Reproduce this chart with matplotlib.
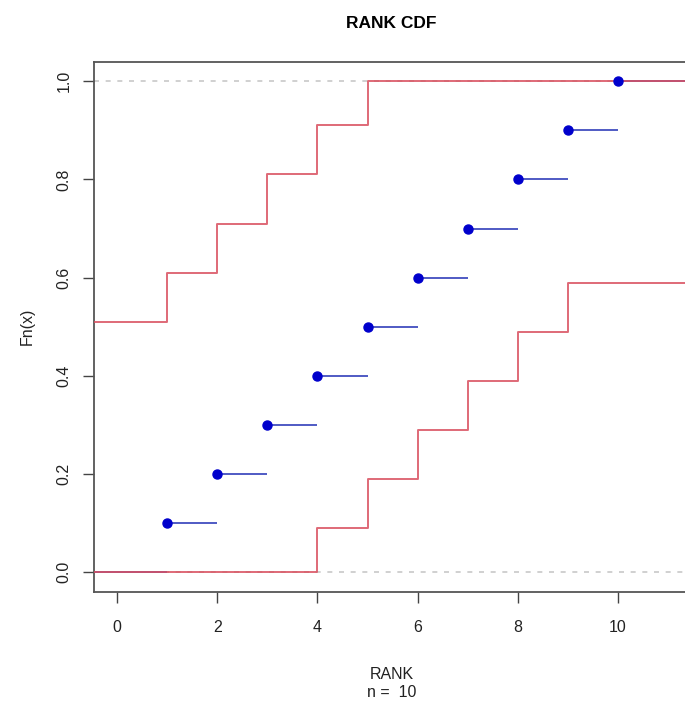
import numpy as np
import matplotlib
matplotlib.use("Agg")
import matplotlib.pyplot as plt

# ---- data ----
ranks = [1, 2, 3, 4, 5, 6, 7, 8, 9, 10]
fn = [0.1, 0.2, 0.3, 0.4, 0.5, 0.6, 0.7, 0.8, 0.9, 1.0]
# confidence band: value left of first knot, then value after each knot
upper_band = [0.51, 0.61, 0.71, 0.81, 0.91, 1.0, 1.0, 1.0, 1.0, 1.0, 1.0]
lower_band = [0.0, 0.0, 0.0, 0.0, 0.09, 0.19, 0.29, 0.39, 0.49, 0.59, 0.59]
xticks = [0, 2, 4, 6, 8, 10]
yticks = [0.0, 0.2, 0.4, 0.6, 0.8, 1.0]

XLO, XHI = -0.46, 11.40

plt.rcParams["font.family"] = ["Liberation Sans", "DejaVu Sans"]

fig = plt.figure(figsize=(6.85, 7.06), dpi=100)
ax_w = (XHI - XLO) * 50.1 / 685
ax = fig.add_axes([94 / 685, 114 / 706, ax_w, 530.5 / 706])

# reference lines
ax.axhline(0, color="#c8c8c8", linestyle=(0, (3, 4)), linewidth=1.2, zorder=1)
ax.axhline(1, color="#c8c8c8", linestyle=(0, (3, 4)), linewidth=1.2, zorder=1)

# ecdf horizontal segments
seg_start = [XLO] + ranks
seg_end = ranks + [XHI]
seg_y = [0.0] + fn
ax.hlines(seg_y, seg_start, seg_end, color="#4f5ac4", linewidth=1.4, zorder=2)

# bands
bx = [XLO] + ranks + [XHI]
ax.step(bx, upper_band + [upper_band[-1]], where="post",
        color="#d9505f", linewidth=1.4, alpha=0.85, zorder=3)
ax.step(bx, lower_band + [lower_band[-1]], where="post",
        color="#d9505f", linewidth=1.4, alpha=0.85, zorder=3)

# points
ax.plot(ranks, fn, "o", color="#0000cc", markersize=6.5, zorder=4)

ax.set_xlim(XLO, XHI)
ax.set_ylim(-0.04, 1.04)
ax.set_xticks(xticks)
ax.set_yticks(yticks)
ax.set_xticklabels([str(t) for t in xticks])
ax.set_yticklabels([f"{t:.1f}" for t in yticks], rotation=90, va="center")
ax.tick_params(length=8, width=1.0, color="#444444", labelsize=11.5,
               labelcolor="#222222")
ax.tick_params(axis="x", pad=12)
ax.tick_params(axis="y", pad=8)
for s in ax.spines.values():
    s.set_color("#555555")
    s.set_linewidth(1.3)

ax.set_xlabel("RANK\nn =  10", fontsize=11.5, color="#222222",
              linespacing=1.3)
ax.xaxis.set_label_coords((392 - 94) / (ax_w * 685), -0.141)
ax.set_ylabel("Fn(x)", fontsize=11.5, color="#222222")
ax.yaxis.set_label_coords((35 - 94) / (ax_w * 685), 0.5)
ax.set_title("RANK CDF", fontsize=12.5, fontweight="bold", pad=24)

fig.savefig("out.png", dpi=100)
